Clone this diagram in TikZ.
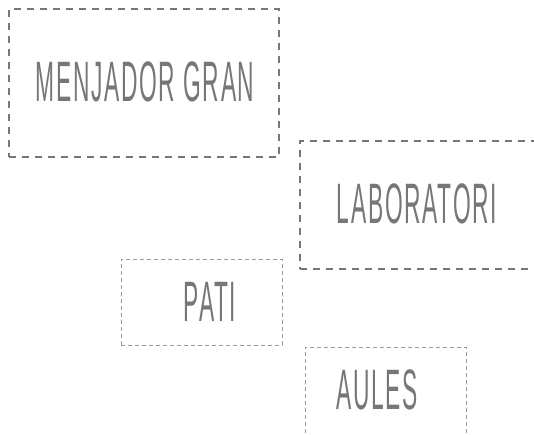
\documentclass[tikz,border=0pt]{standalone}
\usepackage{fontspec}
\newfontfamily\amatic[FakeStretch=0.40,LetterSpace=3]{Liberation Sans}
\definecolor{ink}{HTML}{777777}
\definecolor{thinink}{HTML}{9A9A9A}
\tikzset{
  bigbox/.style={draw=ink, line width=1.3pt, dash pattern=on 7pt off 6pt, rectangle, inner sep=0pt},
  smallbox/.style={draw=thinink, line width=0.9pt, dash pattern=on 4pt off 3pt, rectangle, inner sep=0pt},
  label/.style={text=ink, font=\amatic\fontsize{57}{60}\selectfont, inner sep=0pt, anchor=center},
}
\begin{document}
\begin{tikzpicture}[x=1pt,y=-1pt]
\useasboundingbox (0,0) rectangle (534,434);
\clip (0,0) rectangle (534,434);
\node[bigbox, minimum width=270pt, minimum height=148pt] (menjbox) at (144,83) {};
\node[bigbox, minimum width=250pt, minimum height=128pt] (labbox) at (425,205) {};
\node[smallbox, minimum width=161pt, minimum height=86pt] (patibox) at (201.5,302) {};
\node[smallbox, minimum width=161pt, minimum height=100pt] (aulesbox) at (385.5,397) {};
\node[label] (menj) at (145,82) {MENJADOR GRAN};
\node[label] (lab) at (417,204) {LABORATORI};
\node[label] (pati) at (210,302) {PATI};
\node[label] (aules) at (377,390) {AULES};
\end{tikzpicture}
\end{document}
